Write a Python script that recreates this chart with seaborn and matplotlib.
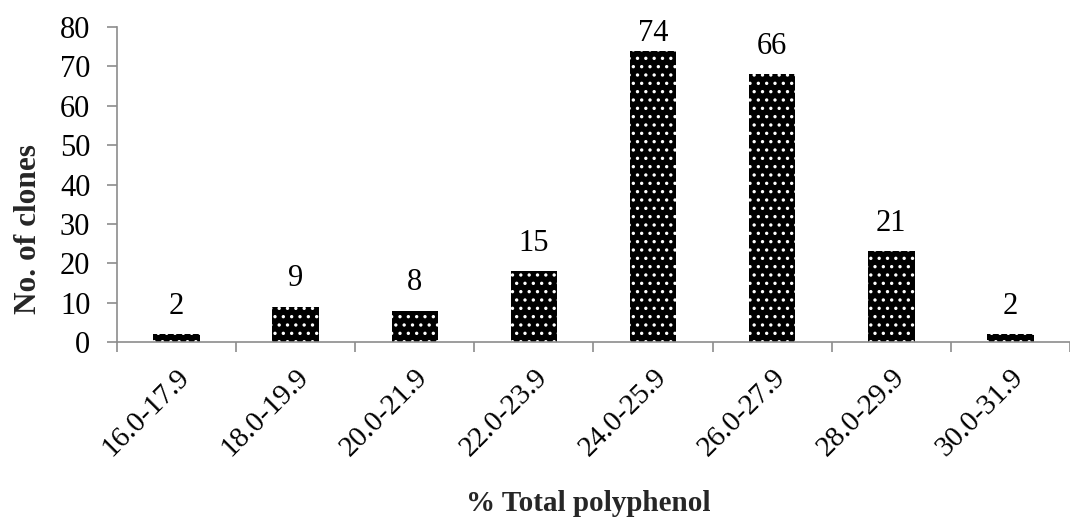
import numpy as np
import pandas as pd
import matplotlib
matplotlib.use("Agg")
import matplotlib.pyplot as plt
import seaborn as sns

categories = ["16.0-17.9", "18.0-19.9", "20.0-21.9", "22.0-23.9",
              "24.0-25.9", "26.0-27.9", "28.0-29.9", "30.0-31.9"]
bar_heights = [2, 9, 8, 18, 74, 68, 23, 2]
bar_labels = ["2", "9", "8", "15", "74", "66", "21", "2"]
y_ticks = [0, 10, 20, 30, 40, 50, 60, 70, 80]

sns.set_theme(style="white")
plt.rcParams["font.family"] = ["Liberation Serif", "DejaVu Serif"]
plt.rcParams["hatch.linewidth"] = 1.2
plt.rcParams["hatch.color"] = "white"

df = pd.DataFrame({"cat": categories, "n": bar_heights})

fig = plt.figure(figsize=(10.7, 5.24), dpi=100)
ax = fig.add_axes([0.1093, 0.3473, 0.8907, 0.6012])

sns.barplot(data=df, x="cat", y="n", ax=ax, color="black", width=0.39,
            saturation=1, order=categories)
for p in ax.patches:
    p.set_facecolor("black")
    p.set_edgecolor("white")
    p.set_linewidth(0)
    p.set_hatch("..")

ax.set_ylim(0, 80)
ax.set_yticks(y_ticks)
ax.set_xlim(-0.5, 7.415)

for i, (h, lab) in enumerate(zip(bar_heights, bar_labels)):
    ax.text(i, min(h + 7.1, 78.4), lab, ha="center", va="center",
            fontsize=22, color="black", clip_on=False)

for s in ["top", "right"]:
    ax.spines[s].set_visible(False)
for s in ["left", "bottom"]:
    ax.spines[s].set_color("#8c8c8c")
    ax.spines[s].set_linewidth(1.2)

ax.tick_params(axis="y", which="major", direction="out", length=7.2,
               width=1.2, color="#8c8c8c", labelsize=22, pad=12,
               left=True, labelcolor="black")
ax.set_xticks(range(len(categories)))
ax.set_xticklabels(categories, rotation=45, ha="right",
                   rotation_mode="anchor", fontsize=21)
ax.tick_params(axis="x", which="major", length=0, pad=16, labelcolor="black")
ax.set_xticks(np.arange(-0.5, len(categories), 1.0), minor=True)
ax.tick_params(axis="x", which="minor", direction="out", length=7.2,
               width=1.2, color="#8c8c8c", bottom=True)

ax.set_xlabel("% Total polyphenol", fontsize=21, fontweight="bold")
ax.set_ylabel("No. of clones", fontsize=22.5, fontweight="bold")
ax.xaxis.set_label_coords(0.495, -0.47)
ax.yaxis.set_label_coords(-0.078, 0.36)

fig.savefig("out.png", dpi=100, facecolor="white")
